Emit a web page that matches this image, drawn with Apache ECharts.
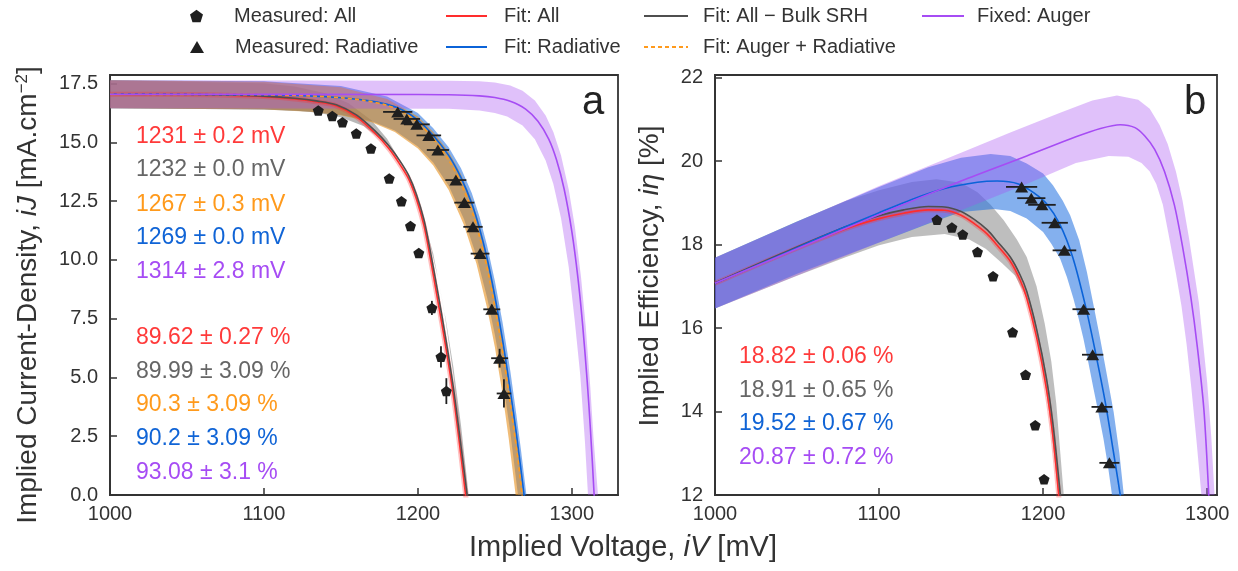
<!DOCTYPE html>
<html><head><meta charset="utf-8">
<script src="https://cdn.jsdelivr.net/npm/echarts@6/dist/echarts.min.js"></script>
<style>html,body{margin:0;padding:0;background:#fff}#c{width:1238px;height:571px}</style>
</head><body><div id="c"></div>
<script>
// ---------------- DATA ----------------
// Panel a : implied current density iJ [mA/cm2] vs iV [mV]
const fitAllA   = [[1000,17.05],[1050,17.04],[1080,17.0],[1100,16.95],[1120,16.85],[1135,16.72],[1147,16.56],[1160,16.1],[1172,15.4],[1181,14.75],[1188,14.1],[1194,13.45],[1199,12.6],[1204,11.45],[1208,10.1],[1213,8.25],[1218,6.35],[1223,4.25],[1227,2.2],[1231,0],[1235,-2.2]];
const fitSrhA   = [[1000,17.06],[1050,17.05],[1080,17.01],[1100,16.97],[1120,16.88],[1135,16.76],[1147,16.6],[1160,16.17],[1172,15.5],[1181,14.87],[1188,14.25],[1194,13.6],[1199,12.8],[1204,11.7],[1208,10.4],[1213,8.6],[1218,6.7],[1223,4.6],[1227,2.6],[1232,0],[1236,-2]];
const fitRadA   = [[1000,17.05],[1100,17.03],[1130,16.98],[1150,16.9],[1165,16.8],[1180,16.62],[1190,16.38],[1200,15.95],[1210,15.3],[1220,14.45],[1228,13.5],[1235,12.4],[1240,11.35],[1245,10.05],[1250,8.45],[1255,6.6],[1260,4.45],[1264,2.6],[1269,0],[1273,-2.2]];
const fitAugRadA= [[1000,17.05],[1100,17.03],[1130,16.98],[1150,16.9],[1165,16.79],[1180,16.58],[1190,16.3],[1200,15.85],[1210,15.15],[1220,14.25],[1228,13.25],[1235,12.1],[1240,11.0],[1245,9.65],[1250,8.0],[1255,6.1],[1260,3.9],[1264,2.0],[1267,0.4],[1271,-2.2]];
const fixAugerA = [[1000,17.05],[1200,17.04],[1220,17.03],[1240,16.98],[1250,16.91],[1260,16.75],[1270,16.42],[1278,15.9],[1285,15.14],[1290,14.27],[1295,13.02],[1300,11.22],[1304,9.22],[1307,7.26],[1310,4.83],[1312,2.88],[1314.5,0],[1318,-5]];

const bandSrhUpA    = [[1000,17.65],[1100,17.52],[1120,17.38],[1140,17.09],[1155,16.67],[1170,15.93],[1180,15.16],[1190,14.05],[1200,12.44],[1207,10.9],[1213,9.24],[1218,7.52],[1223,5.47],[1228,2.98],[1233,0],[1237,-4]];
const bandSrhLoA    = [[1000,16.45],[1100,16.41],[1120,16.36],[1135,16.26],[1150,16.07],[1165,15.69],[1180,14.92],[1190,14.02],[1200,12.55],[1210,10.26],[1217,7.88],[1223,5.12],[1228,2.14],[1231,0],[1234,-2.4]];
const bandRadUpA    = [[1000,17.65],[1100,17.6],[1150,17.4],[1180,16.95],[1200,16.25],[1210,15.6],[1220,14.8],[1228,13.9],[1235,12.85],[1240,11.85],[1245,10.6],[1250,9.1],[1255,7.35],[1260,5.3],[1264,3.4],[1267,1.9],[1270.5,0],[1274,-2]];
const bandRadLoA    = [[1000,16.45],[1100,16.4],[1130,16.32],[1150,16.18],[1170,15.9],[1185,15.51],[1200,14.83],[1210,14.15],[1220,13.16],[1230,11.73],[1238,10.18],[1245,8.39],[1250,6.83],[1255,4.94],[1260,2.7],[1265,0],[1268,-2]];
const bandAugRadUpA = [[1000,17.65],[1100,17.58],[1150,17.35],[1180,16.85],[1200,16.1],[1210,15.45],[1220,14.6],[1228,13.65],[1235,12.55],[1240,11.5],[1245,10.2],[1250,8.6],[1255,6.75],[1260,4.6],[1264,2.7],[1268.5,0],[1272,-2]];
const bandAugRadLoA = [[1000,16.45],[1100,16.4],[1130,16.31],[1150,16.16],[1170,15.86],[1185,15.45],[1200,14.74],[1210,14.02],[1220,12.98],[1230,11.48],[1238,9.85],[1245,7.95],[1250,6.3],[1255,4.3],[1259,2.4],[1263.5,0],[1266,-2]];
const bandAugerUpA  = [[1000,17.65],[1220,17.63],[1240,17.6],[1250,17.55],[1260,17.42],[1268,17.2],[1276,16.78],[1283,16.15],[1288,15.45],[1293,14.45],[1298,13.0],[1302,11.4],[1306,9.25],[1309,7.2],[1312,4.6],[1314,2.5],[1317,0],[1320,-4]];
const bandAugerLoA  = [[1000,16.45],[1220,16.43],[1240,16.36],[1250,16.25],[1258,16.1],[1268,15.72],[1276,15.14],[1283,14.23],[1288,13.23],[1293,11.78],[1298,9.7],[1302,7.35],[1305.5,5.1],[1308.5,2.3],[1310.5,0],[1313.5,-3.9]];

// Panel b : implied efficiency [%] vs iV [mV]
const fitAllB   = [[1000,17.07],[1040,17.75],[1080,18.38],[1100,18.62],[1115,18.75],[1130,18.83],[1140,18.82],[1150,18.7],[1158,18.5],[1166,18.25],[1172,17.98],[1180,17.6],[1186,17.15],[1190,16.72],[1196,15.78],[1202,14.55],[1206,13.4],[1209.5,12.0],[1213,10.4]];
const fitSrhB   = [[1000,17.08],[1040,17.77],[1080,18.43],[1100,18.69],[1115,18.83],[1130,18.91],[1140,18.9],[1150,18.79],[1158,18.6],[1166,18.35],[1172,18.08],[1180,17.7],[1186,17.27],[1190,16.88],[1196,15.98],[1202,14.8],[1206,13.7],[1210,12.2],[1214,10.5]];
const fitRadB   = [[1000,17.07],[1040,17.75],[1070,18.27],[1100,18.76],[1120,19.08],[1140,19.34],[1160,19.49],[1172,19.52],[1185,19.45],[1195,19.22],[1202,18.98],[1210,18.5],[1218,17.7],[1226,16.5],[1232,15.4],[1238,14.2],[1243,13.0],[1248,11.75],[1252,10.6]];
const fixAugerB = [[1000,17.07],[1050,17.9],[1100,18.72],[1150,19.52],[1190,20.12],[1220,20.58],[1235,20.78],[1247,20.87],[1256,20.8],[1262,20.6],[1268,20.28],[1274,19.75],[1280,18.95],[1285,17.95],[1290,16.75],[1294,15.55],[1298,14.05],[1301,12.0],[1304,9.6]];

const bandSrhUpB   = [[1000,17.68],[1050,18.55],[1080,19.05],[1100,19.3],[1120,19.5],[1135,19.56],[1150,19.48],[1160,19.25],[1168,18.95],[1176,18.58],[1184,18.12],[1190,17.7],[1196,17.0],[1201,16.1],[1205,15.2],[1208,14.2],[1210.5,13.0],[1212.8,11.9],[1215,10.7]];
const bandSrhLoB   = [[1000,16.47],[1050,17.25],[1080,17.7],[1100,17.98],[1120,18.18],[1140,18.25],[1155,18.12],[1165,17.9],[1175,17.55],[1183,17.25],[1190,16.72],[1196,15.82],[1201,14.75],[1205,13.6],[1208.5,12.3],[1211,11.2]];
const bandRadUpB   = [[1000,17.68],[1050,18.55],[1100,19.38],[1130,19.85],[1150,20.08],[1168,20.17],[1180,20.12],[1190,19.94],[1200,19.7],[1206,19.42],[1212,19.05],[1216.5,18.7],[1222,18.1],[1226.7,17.34],[1231,16.5],[1235,15.7],[1239,14.85],[1243,13.99],[1246.5,13.0],[1249.2,12.0],[1252,10.9]];
const bandRadLoB   = [[1000,16.47],[1050,17.3],[1100,18.05],[1130,18.5],[1150,18.78],[1170,18.85],[1180,18.8],[1190,18.62],[1200,18.3],[1205,18.02],[1210.4,17.66],[1214.5,17.22],[1218.5,16.7],[1221.5,16.25],[1224.6,15.74],[1227.7,15.15],[1230.7,14.55],[1233.8,13.95],[1236.8,13.35],[1239.5,12.7],[1242,12.0],[1245,11.0]];
const bandAugerUpB = [[1000,17.68],[1100,19.4],[1150,20.2],[1180,20.68],[1210,21.15],[1230,21.45],[1245,21.57],[1258,21.47],[1265,21.25],[1271,20.86],[1276,20.4],[1281,19.74],[1285,19.05],[1289,18.14],[1295,16.6],[1300,14.7],[1302.5,13.4],[1304.5,12.0],[1307,10.3]];
const bandAugerLoB = [[1000,16.47],[1100,18.05],[1150,18.82],[1190,19.45],[1220,19.95],[1240,20.12],[1252,20.1],[1260,19.95],[1265,19.75],[1269,19.45],[1273,18.95],[1277,18.14],[1281,17.3],[1284.3,16.54],[1287.5,15.6],[1290.4,14.55],[1293.5,13.3],[1296.5,12.0],[1299,10.7]];

// Measured points
const measAllV    = [1135.3,1144.4,1151.0,1160.0,1169.5,1181.4,1189.3,1195.2,1200.6,1209.1,1215.0,1218.5];
const measAllJ    = [16.36,16.13,15.86,15.38,14.74,13.47,12.50,11.45,10.30,7.96,5.88,4.42];
const measAllJErr = [0,0,0,0,0,0,0,0,0,0.3,0.45,0.55];
const measAllEff  = [18.59,18.41,18.24,17.82,17.24,15.90,14.88,13.67,12.38];
const measRadV    = [1186.9,1192.8,1199.3,1207.1,1213.0,1224.7,1230.2,1235.8,1240.4,1248.0,1253.1,1255.9];
const measRadJ    = [16.30,16.00,15.77,15.30,14.68,13.40,12.44,11.41,10.27,7.90,5.82,4.32];
const measRadJErr = [0,0,0,0,0,0,0,0,0,0.2,0.4,0.6];
const measRadVErr = [9.5,8.6,8.4,8.0,7.2,6.8,6.5,6.3,6.1,5.5,5.5,4.7];
const measRadEff  = [19.38,19.11,18.95,18.52,17.86,16.45,15.36,14.11,12.77];

// Axis ranges
const xRangeA = [1000, 1330], yRangeA = [0, 17.87];
const xRangeB = [1000, 1306], yRangeB = [12, 22.06];

// Annotations
const annA = [
  ['1231 ± 0.2 mV','red'],['1232 ± 0.0 mV','gray'],['1267 ± 0.3 mV','orange'],['1269 ± 0.0 mV','blue'],['1314 ± 2.8 mV','purple'],
  ['89.62 ± 0.27 %','red'],['89.99 ± 3.09 %','gray'],['90.3 ± 3.09 %','orange'],['90.2 ± 3.09 %','blue'],['93.08 ± 3.1 %','purple']];
const annB = [['18.82 ± 0.06 %','red'],['18.91 ± 0.65 %','gray'],['19.52 ± 0.67 %','blue'],['20.87 ± 0.72 %','purple']];

// ---------------- STYLE ----------------
const FONT = "'Liberation Sans', Arial, Helvetica, sans-serif";
const COL = {red:'#ff2d2d', gray:'#4f4f4f', orange:'#ff9a1c', blue:'#0b63d8', purple:'#a64cf4', mark:'#1f1f1f'};
const TXT = {red:'#ff3a3a', gray:'#666666', orange:'#ff9a1c', blue:'#1064d6', purple:'#a64cf4'};
const PENTA = 'path://M0,-10L9.511,-3.09L5.878,8.09L-5.878,8.09L-9.511,-3.09Z';

function band(gi, up, lo, fill) {
  const pts = up.concat(lo.slice().reverse());
  return {type:'custom', xAxisIndex:gi, yAxisIndex:gi, silent:true, z:1, data:[pts[0]],
    renderItem(params, api) {
      if (params.dataIndex !== 0) return;
      const cs = params.coordSys;
      return {type:'polygon', shape:{points: pts.map(p => api.coord(p))}, style:{fill},
        clipPath:{type:'rect', shape:{x:cs.x, y:cs.y, width:cs.width, height:cs.height}}};
    }};
}
function lineS(name, data, color, gi, o) {
  o = o || {};
  return {type:'line', name, data, xAxisIndex:gi, yAxisIndex:gi, symbol:'none', smooth:0.3, clip:true, silent:true,
    z:o.z || 3, lineStyle:{color, width:o.width || 1.6, type:o.type || 'solid'}, itemStyle:{color}};
}
function errS(gi, data) {
  return {type:'custom', xAxisIndex:gi, yAxisIndex:gi, silent:true, z:4, data, encode:{x:0, y:1},
    renderItem(params, api) {
      const x = api.value(0), y = api.value(1), xe = api.value(2), ye = api.value(3);
      const ch = [], st = {stroke:COL.mark, lineWidth:1.8};
      if (xe > 0) { const a = api.coord([x - xe, y]), b = api.coord([x + xe, y]);
        ch.push({type:'line', shape:{x1:a[0], y1:a[1], x2:b[0], y2:b[1]}, style:st}); }
      if (ye > 0) { const a = api.coord([x, y - ye]), b = api.coord([x, y + ye]);
        ch.push({type:'line', shape:{x1:a[0], y1:a[1], x2:b[0], y2:b[1]}, style:st}); }
      return {type:'group', children:ch};
    }};
}
function scat(name, gi, data, symbol, size) {
  return {type:'scatter', name, xAxisIndex:gi, yAxisIndex:gi, data, symbol, symbolSize:size, silent:true, z:5,
    itemStyle:{color:COL.mark, opacity:1}};
}

const allA = measAllV.map((v,i) => [v, measAllJ[i], 0, measAllJErr[i]]);
const radA = measRadV.map((v,i) => [v, measRadJ[i], measRadVErr[i], measRadJErr[i]]);
const allB = measAllEff.map((e,i) => [measAllV[i], e, 0, 0]);
const radB = measRadEff.map((e,i) => [measRadV[i], e, measRadVErr[i], 0]);

const series = [
  // panel a
  band(0, bandSrhUpA, bandSrhLoA, 'rgba(85,85,85,0.42)'),
  band(0, bandRadUpA, bandRadLoA, 'rgba(31,111,224,0.55)'),
  band(0, bandAugRadUpA, bandAugRadLoA, 'rgba(230,140,20,0.58)'),
  band(0, bandAugerUpA, bandAugerLoA, 'rgba(166,76,240,0.35)'),
  lineS('', fitAllA, 'rgba(255,45,45,0.3)', 0, {width:5, z:2}),
  lineS('Fit: All', fitAllA, COL.red, 0),
  lineS('Fit: All − Bulk SRH', fitSrhA, COL.gray, 0),
  lineS('Fit: Radiative', fitRadA, COL.blue, 0),
  lineS('Fit: Auger + Radiative', fitAugRadA, COL.orange, 0, {type:[4,3]}),
  lineS('Fixed: Auger', fixAugerA, COL.purple, 0),
  errS(0, allA), errS(0, radA),
  scat('Measured: All', 0, allA, PENTA, [11,10.5]),
  scat('Measured: Radiative', 0, radA, 'triangle', [13,11]),
  // panel b
  band(1, bandSrhUpB, bandSrhLoB, 'rgba(85,85,85,0.38)'),
  band(1, bandRadUpB, bandRadLoB, 'rgba(31,111,224,0.55)'),
  band(1, bandAugerUpB, bandAugerLoB, 'rgba(166,76,240,0.35)'),
  lineS('', fitAllB, 'rgba(255,45,45,0.3)', 1, {width:5, z:2}),
  lineS('Fit: All', fitAllB, COL.red, 1),
  lineS('Fit: All − Bulk SRH', fitSrhB, COL.gray, 1),
  lineS('Fit: Radiative', fitRadB, COL.blue, 1),
  lineS('Fixed: Auger', fixAugerB, COL.purple, 1),
  errS(1, allB), errS(1, radB),
  scat('Measured: All', 1, allB, PENTA, [11,10.5]),
  scat('Measured: Radiative', 1, radB, 'triangle', [13,11])
];

const legendDefs = [
  ['Measured: All', 190, 6, PENTA, 13, 13, 26],
  ['Measured: Radiative', 190, 37, 'triangle', 14, 12, 26],
  ['Fit: All', 445, 6, null, 41, 14, 12],
  ['Fit: Radiative', 445, 37, null, 41, 14, 12],
  ['Fit: All − Bulk SRH', 643, 6, null, 44, 14, 10],
  ['Fit: Auger + Radiative', 643, 37, null, 44, 14, 10],
  ['Fixed: Auger', 921, 6, null, 42, 14, 8]
];
const legend = legendDefs.map(d => {
  const l = {
    show:true, selectedMode:false, left:d[1], top:d[2], itemWidth:d[4], itemHeight:d[5], padding:0, itemGap:0,
    data:[d[3] ? {name:d[0], icon:d[3]} : {name:d[0]}],
    textStyle:{fontFamily:FONT, fontSize:20, color:'#333', padding:[0,0,0,d[6]]}
  };
  if (!d[3]) l.itemStyle = {opacity:0, borderWidth:0};
  return l;
});

function xAx(gi, r) {
  return {gridIndex:gi, type:'value', min:r[0], max:r[1], interval:100,
    axisLine:{show:true, lineStyle:{color:'#333', width:1.8}},
    axisTick:{show:true, inside:true, length:7, lineStyle:{color:'#333', width:1.5}},
    axisLabel:{showMaxLabel:false, fontFamily:FONT, fontSize:20, color:'#333', margin:9, formatter:v => String(v)},
    splitLine:{show:false}};
}
function yAx(gi, r, iv, fmt) {
  return {gridIndex:gi, type:'value', min:r[0], max:r[1], interval:iv,
    axisLine:{show:true, lineStyle:{color:'#333', width:1.8}},
    axisTick:{show:true, inside:true, length:7, lineStyle:{color:'#333', width:1.5}},
    axisLabel:{showMaxLabel:false, fontFamily:FONT, fontSize:20, color:'#333', margin:12, formatter:fmt},
    splitLine:{show:false}};
}

const graphic = [];
annA.forEach((a,i) => {
  const y = [137,170,205,238,272,338,372,405,439,473][i];
  graphic.push({type:'text', silent:true, z:10, style:{x:136, y, text:a[0], fill:TXT[a[1]], fontFamily:FONT, fontSize:23, align:'left', verticalAlign:'middle'}});
});
annB.forEach((a,i) => {
  const y = [357,391,424,458][i];
  graphic.push({type:'text', silent:true, z:10, style:{x:739, y, text:a[0], fill:TXT[a[1]], fontFamily:FONT, fontSize:23, align:'left', verticalAlign:'middle'}});
});
graphic.push({type:'text', silent:true, z:10, style:{x:582, y:103, text:'a', fill:'#222', fontFamily:FONT, fontSize:40, align:'left', verticalAlign:'middle'}});
graphic.push({type:'text', silent:true, z:10, style:{x:1184, y:103, text:'b', fill:'#222', fontFamily:FONT, fontSize:40, align:'left', verticalAlign:'middle'}});
const richX = {it:{fontStyle:'italic', fontFamily:FONT, fontSize:29, fill:'#333'}};
const richY = {it:{fontStyle:'italic', fontFamily:FONT, fontSize:28, fill:'#333'}, sup:{fontFamily:FONT, fontSize:17, fill:'#333', verticalAlign:'top'}};
graphic.push({type:'text', silent:true, x:623, y:548, style:{text:'Implied Voltage, {it|iV} [mV]', rich:richX, fill:'#333', fontFamily:FONT, fontSize:29, align:'center', verticalAlign:'middle'}});
graphic.push({type:'text', silent:true, x:28, y:295, rotation:Math.PI/2, style:{text:'Implied Current-Density, {it|iJ} [mA.cm{sup|−2}]', rich:richY, fill:'#333', fontFamily:FONT, fontSize:28, align:'center', verticalAlign:'middle'}});
graphic.push({type:'text', silent:true, x:650, y:276, rotation:Math.PI/2, style:{text:'Implied Efficiency, {it|iη} [%]', rich:richY, fill:'#333', fontFamily:FONT, fontSize:28, align:'center', verticalAlign:'middle'}});

const chart = echarts.init(document.getElementById('c'), null, {renderer:'canvas', width:1238, height:571});
chart.setOption({
  animation:false, backgroundColor:'#fff',
  grid:[
    {left:110, top:75, width:508, height:420, show:true, borderColor:'#333', borderWidth:1.8, backgroundColor:'transparent', containLabel:false, outerBoundsMode:'none'},
    {left:715, top:75, width:502, height:420, show:true, borderColor:'#333', borderWidth:1.8, backgroundColor:'transparent', containLabel:false, outerBoundsMode:'none'}
  ],
  xAxis:[xAx(0, xRangeA), xAx(1, xRangeB)],
  yAxis:[yAx(0, yRangeA, 2.5, v => v.toFixed(1)), yAx(1, yRangeB, 2, v => String(v))],
  legend, series, graphic
});
</script></body></html>
